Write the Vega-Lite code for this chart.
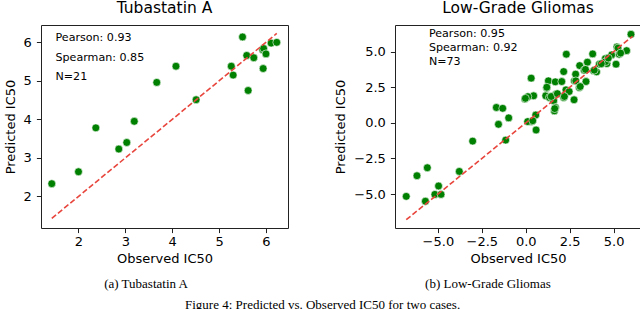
{
  "$schema": "https://vega.github.io/schema/vega-lite/v6.json",
  "padding": {"left": 3, "top": 0, "right": 0, "bottom": 0},
  "background": "white",
  "datasets": {
    "tuba": [
      {"obs": 1.43, "pred": 2.33}, {"obs": 2.0, "pred": 2.64}, {"obs": 2.37, "pred": 3.78},
      {"obs": 2.86, "pred": 3.23}, {"obs": 3.03, "pred": 3.4}, {"obs": 3.19, "pred": 3.95},
      {"obs": 3.67, "pred": 4.96}, {"obs": 4.08, "pred": 5.38}, {"obs": 4.51, "pred": 4.51},
      {"obs": 5.26, "pred": 5.38}, {"obs": 5.3, "pred": 5.15}, {"obs": 5.5, "pred": 6.14},
      {"obs": 5.59, "pred": 5.66}, {"obs": 5.62, "pred": 4.75}, {"obs": 5.74, "pred": 5.6},
      {"obs": 5.93, "pred": 5.81}, {"obs": 5.95, "pred": 5.84}, {"obs": 5.94, "pred": 5.32},
      {"obs": 6.0, "pred": 5.7}, {"obs": 6.11, "pred": 5.98}, {"obs": 6.23, "pred": 6.0}
    ],
    "tubaLine": [{"obs": 1.43, "pred": 1.43}, {"obs": 6.23, "pred": 6.23}],
    "tubaText": [{"label": "Pearson: 0.93\nSpearman: 0.85\nN=21"}],
    "lgg": [
      {"obs": -6.8, "pred": -5.16}, {"obs": -5.71, "pred": -5.5}, {"obs": -6.19, "pred": -3.71},
      {"obs": -5.6, "pred": -3.15}, {"obs": -4.96, "pred": -4.43}, {"obs": -5.17, "pred": -5.02},
      {"obs": -4.82, "pred": -5.02}, {"obs": -3.78, "pred": -3.41}, {"obs": -3.02, "pred": -1.28},
      {"obs": -1.67, "pred": 1.08}, {"obs": -1.31, "pred": 1.02}, {"obs": -1.55, "pred": -0.1},
      {"obs": -0.97, "pred": 0.35}, {"obs": -1.14, "pred": -1.21}, {"obs": -0.05, "pred": 1.67},
      {"obs": 0.45, "pred": 1.9}, {"obs": 0.12, "pred": 1.84}, {"obs": 0.31, "pred": 0.09},
      {"obs": 0.11, "pred": 0.09}, {"obs": 0.57, "pred": 0.55}, {"obs": 0.59, "pred": -0.5},
      {"obs": 0.31, "pred": 3.14}, {"obs": 1.14, "pred": 1.9}, {"obs": 1.19, "pred": 2.44},
      {"obs": 1.29, "pred": 2.95}, {"obs": 1.35, "pred": 1.78}, {"obs": 1.59, "pred": 1.55},
      {"obs": 1.69, "pred": 1.08}, {"obs": 1.63, "pred": 0.84}, {"obs": 1.72, "pred": 2.01},
      {"obs": 1.68, "pred": 2.88}, {"obs": 2.05, "pred": 2.9}, {"obs": 2.16, "pred": 3.6},
      {"obs": 2.31, "pred": 4.82}, {"obs": 2.29, "pred": 2.32}, {"obs": 2.47, "pred": 2.2},
      {"obs": 2.16, "pred": 1.78}, {"obs": 2.75, "pred": 1.62}, {"obs": 2.77, "pred": 2.95},
      {"obs": 2.84, "pred": 3.42}, {"obs": 3.05, "pred": 2.48}, {"obs": 3.07, "pred": 4.02},
      {"obs": 3.33, "pred": 3.7}, {"obs": 3.43, "pred": 2.9}, {"obs": 3.51, "pred": 4.26},
      {"obs": 3.81, "pred": 4.84}, {"obs": 3.86, "pred": 3.65}, {"obs": 4.03, "pred": 3.58},
      {"obs": 4.19, "pred": 4.12}, {"obs": 4.53, "pred": 4.51}, {"obs": 4.62, "pred": 4.16},
      {"obs": 4.89, "pred": 4.77}, {"obs": 5.14, "pred": 4.12}, {"obs": 5.32, "pred": 4.82},
      {"obs": 5.19, "pred": 5.33}, {"obs": 5.74, "pred": 5.07}, {"obs": 5.99, "pred": 6.22},
      {"obs": 1.45, "pred": 1.85}, {"obs": 1.8, "pred": 2.05}, {"obs": 1.65, "pred": 1.0},
      {"obs": 3.4, "pred": 3.75}, {"obs": 3.9, "pred": 3.7}, {"obs": 4.55, "pred": 4.3},
      {"obs": 4.7, "pred": 4.55}, {"obs": 1.2, "pred": 2.5}, {"obs": 0.4, "pred": 0.15},
      {"obs": -0.02, "pred": 1.72}, {"obs": 2.2, "pred": 1.85}, {"obs": 2.85, "pred": 2.95},
      {"obs": 3.1, "pred": 2.55}, {"obs": 4.3, "pred": 4.15}, {"obs": 5.25, "pred": 5.25},
      {"obs": 5.4, "pred": 4.9}
    ],
    "lggLine": [{"obs": -6.8, "pred": -6.8}, {"obs": 6.08, "pred": 6.08}],
    "lggText": [{"label": "Pearson: 0.95\nSpearman: 0.92\nN=73"}]
  },
  "title": {
    "text": "Figure 4: Predicted vs. Observed IC50 for two cases.",
    "orient": "bottom",
    "anchor": "middle",
    "font": "Liberation Serif",
    "fontSize": 13,
    "fontWeight": "normal",
    "color": "black",
    "offset": 8
  },
  "spacing": 45,
  "hconcat": [
    {
      "title": {"text": "(a) Tubastatin A", "orient": "bottom", "anchor": "middle", "font": "Liberation Serif", "fontSize": 13, "fontWeight": "normal", "color": "black", "offset": 12},
      "vconcat": [
        {
          "width": 247,
          "height": 203,
          "title": {"text": "Tubastatin A", "offset": 9},
          "layer": [
            {
              "data": {"name": "tuba"},
              "mark": {"type": "point", "filled": true, "shape": "circle", "size": 62, "color": "#008000", "opacity": 1, "stroke": "white", "strokeWidth": 0.6},
              "encoding": {
                "x": {"field": "obs", "type": "quantitative", "scale": {"domain": [1.2, 6.47], "nice": false, "zero": false}, "axis": {"values": [2, 3, 4, 5, 6], "format": "d"}, "title": "Observed IC50"},
                "y": {"field": "pred", "type": "quantitative", "scale": {"domain": [1.18, 6.45], "nice": false, "zero": false}, "axis": {"values": [2, 3, 4, 5, 6], "format": "d"}, "title": "Predicted IC50"}
              }
            },
            {
              "data": {"name": "tubaLine"},
              "mark": {"type": "line", "color": "#e8453c", "strokeWidth": 1.6, "strokeDash": [5.5, 2.5]},
              "encoding": {
                "x": {"field": "obs", "type": "quantitative"},
                "y": {"field": "pred", "type": "quantitative"}
              }
            },
            {
              "data": {"name": "tubaText"},
              "mark": {"type": "text", "align": "left", "baseline": "middle", "lineBreak": "\n", "lineHeight": 19.6, "fontSize": 11.1, "color": "black"},
              "encoding": {
                "x": {"datum": 1.51, "type": "quantitative"},
                "y": {"datum": 6.11, "type": "quantitative"},
                "text": {"field": "label"}
              }
            }
          ]
        }
      ]
    },
    {
      "title": {"text": "(b) Low-Grade Gliomas", "orient": "bottom", "anchor": "middle", "font": "Liberation Serif", "fontSize": 13, "fontWeight": "normal", "color": "black", "offset": 12},
      "vconcat": [
        {
          "width": 246,
          "height": 203,
          "title": {"text": "Low-Grade Gliomas", "offset": 9},
          "layer": [
            {
              "data": {"name": "lgg"},
              "mark": {"type": "point", "filled": true, "shape": "circle", "size": 62, "color": "#008000", "opacity": 1, "stroke": "white", "strokeWidth": 0.6},
              "encoding": {
                "x": {"field": "obs", "type": "quantitative", "scale": {"domain": [-7.44, 6.56], "nice": false, "zero": false}, "axis": {"values": [-5, -2.5, 0, 2.5, 5], "format": ".1f"}, "title": "Observed IC50"},
                "y": {"field": "pred", "type": "quantitative", "scale": {"domain": [-7.38, 6.87], "nice": false, "zero": false}, "axis": {"values": [-5, -2.5, 0, 2.5, 5], "format": ".1f"}, "title": "Predicted IC50"}
              }
            },
            {
              "data": {"name": "lggLine"},
              "mark": {"type": "line", "color": "#e8453c", "strokeWidth": 1.6, "strokeDash": [5.5, 2.5]},
              "encoding": {
                "x": {"field": "obs", "type": "quantitative"},
                "y": {"field": "pred", "type": "quantitative"}
              }
            },
            {
              "data": {"name": "lggText"},
              "mark": {"type": "text", "align": "left", "baseline": "middle", "lineBreak": "\n", "lineHeight": 14.2, "fontSize": 11.1, "color": "black"},
              "encoding": {
                "x": {"datum": -5.51, "type": "quantitative"},
                "y": {"datum": 6.26, "type": "quantitative"},
                "text": {"field": "label"}
              }
            }
          ]
        }
      ]
    }
  ],
  "config": {
    "font": "DejaVu Sans",
    "view": {"stroke": "#222", "strokeWidth": 1},
    "axis": {
      "grid": false,
      "domain": false,
      "tickColor": "#222",
      "tickSize": 4.6,
      "tickWidth": 1,
      "labelPadding": 5,
      "labelFontSize": 13,
      "labelColor": "black",
      "labelFont": "DejaVu Sans",
      "titleFont": "DejaVu Sans",
      "titleFontSize": 13,
      "titleFontWeight": "normal",
      "titleColor": "black",
      "titlePadding": 6
    },
    "axisX": {"labelPadding": 3, "titlePadding": 4},
    "title": {"font": "DejaVu Sans", "fontSize": 15.5, "fontWeight": "normal", "color": "black"}
  }
}
